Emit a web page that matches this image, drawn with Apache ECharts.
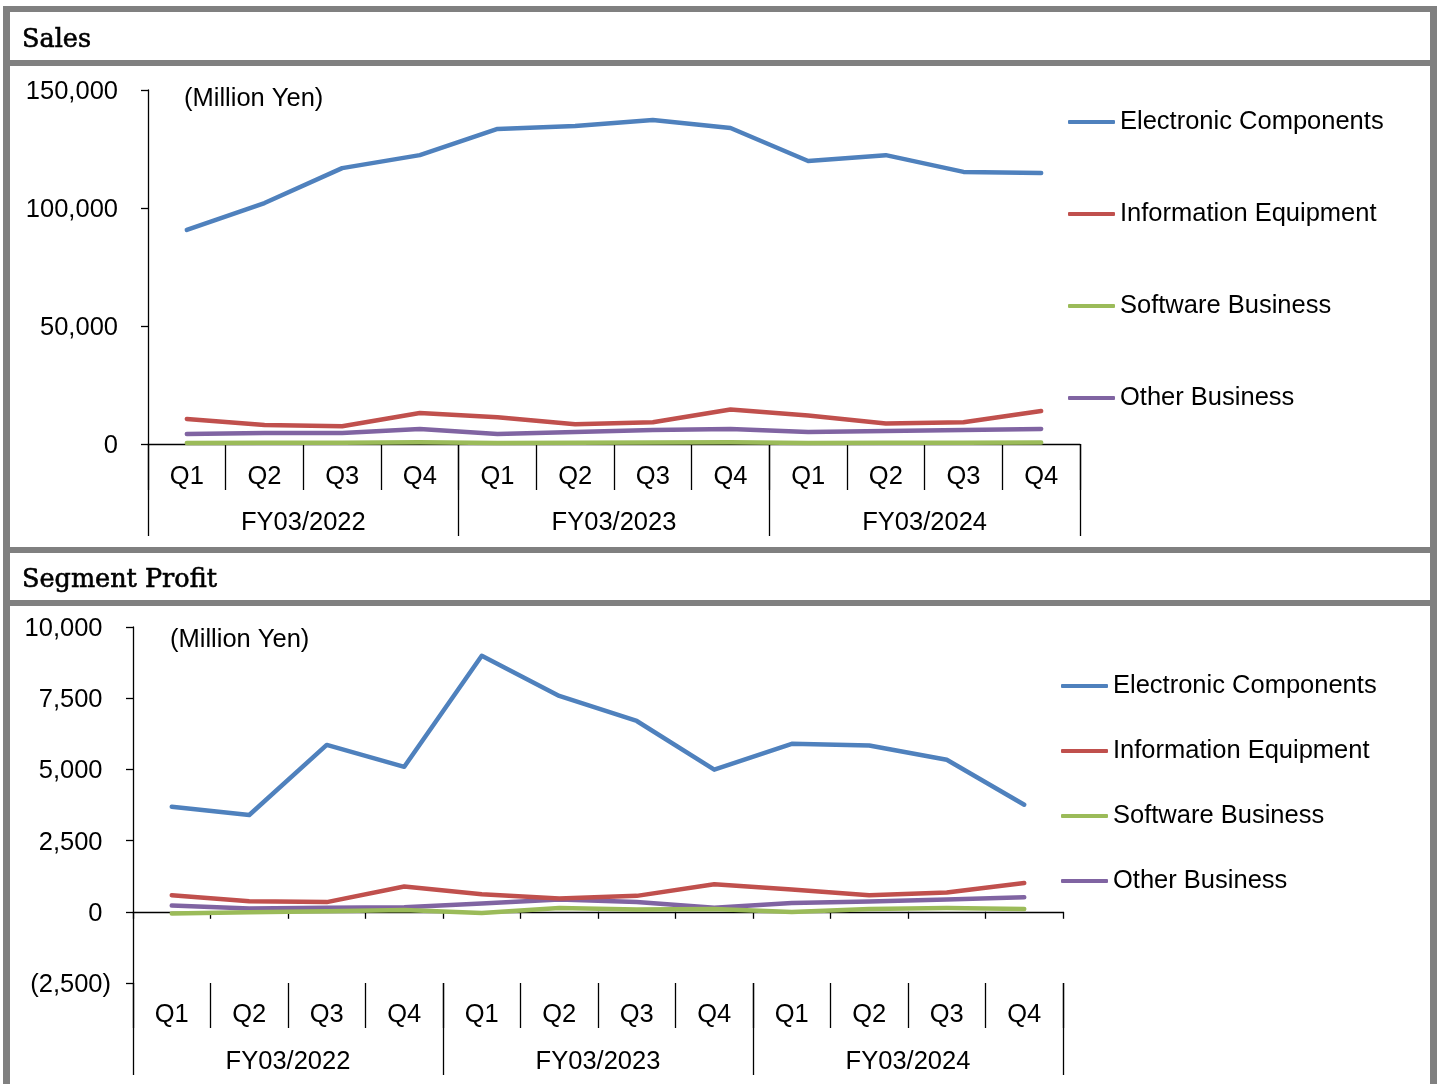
<!DOCTYPE html>
<html>
<head>
<meta charset="utf-8">
<script src="https://cdn.jsdelivr.net/npm/echarts@6.0.0/dist/echarts.min.js"></script>
<style>
  html, body { margin: 0; padding: 0; background: #fff; }
  #chart { width: 1437px; height: 1084px; }
</style>
</head>
<body>
<div id="chart"></div>
<script>
// quarters and fiscal years shared by both panels
const quarters = ['Q1', 'Q2', 'Q3', 'Q4', 'Q1', 'Q2', 'Q3', 'Q4', 'Q1', 'Q2', 'Q3', 'Q4'];
const fiscalYears = ['FY03/2022', 'FY03/2023', 'FY03/2024'];
const segmentNames = ['Electronic Components', 'Information Equipment', 'Software Business', 'Other Business'];
const segmentColors = ['#4F81BD', '#C0504D', '#9BBB59', '#8064A2'];

// Sales (million yen)
const salesElectronic = [90700, 102100, 116900, 122400, 133500, 134700, 137300, 133900, 119900, 122400, 115300, 114800];
const salesInfo = [10600, 8100, 7500, 13100, 11300, 8400, 9200, 14600, 12100, 8700, 9200, 14000];
const salesSoftware = [450, 500, 550, 750, 400, 550, 600, 700, 450, 500, 550, 650];
const salesOther = [4200, 4700, 4700, 6400, 4200, 5100, 5900, 6400, 5100, 5500, 5900, 6400];

// Segment profit (million yen)
const profitElectronic = [3690, 3400, 5860, 5090, 8990, 7580, 6700, 4990, 5900, 5840, 5340, 3760];
const profitInfo = [580, 370, 340, 890, 620, 470, 560, 970, 780, 580, 680, 1010];
const profitSoftware = [-60, -20, 20, 60, -40, 130, 80, 100, -10, 100, 130, 100];
const profitOther = [220, 120, 140, 160, 290, 430, 340, 140, 310, 360, 430, 510];

const salesTicks = { min: 0, max: 150000, interval: 50000 };
const profitTicks = { min: -2500, max: 10000, interval: 2500 };

const sansFont = '"Liberation Sans", Arial, sans-serif';
const serifFont = '"DejaVu Serif", serif';
const fs = 25.5;

const chart = echarts.init(document.getElementById('chart'));

const makeSeries = (valuesList, xIdx, yIdx) =>
  valuesList.map((values, i) => ({
    name: segmentNames[i],
    type: 'line',
    xAxisIndex: xIdx,
    yAxisIndex: yIdx,
    data: values,
    symbol: 'none',
    itemStyle: { color: segmentColors[i] },
    lineStyle: { color: segmentColors[i], width: 4.5, cap: 'round', join: 'round' },
    z: 10 - i
  }));

const makeLegend = (left, top, gap) => ({
  orient: 'vertical',
  left: left,
  top: top,
  padding: 0,
  itemGap: gap,
  icon: 'roundRect',
  itemWidth: 47,
  itemHeight: 4,
  selectedMode: false,
  data: segmentNames,
  itemStyle: { borderWidth: 0 },
  textStyle: { fontFamily: sansFont, fontSize: fs, color: '#000', lineHeight: 30 }
});

const blackLine = { show: true, lineStyle: { color: '#000', width: 1.3 } };
const labelStyle = { fontFamily: sansFont, fontSize: fs, color: '#000' };
const headStyle = { fontFamily: serifFont, fontSize: fs, fill: '#000', stroke: '#000', lineWidth: 0.6, verticalAlign: 'middle' };
const unitStyle = { fontFamily: sansFont, fontSize: fs, fill: '#000', verticalAlign: 'middle' };

// value labels in Excel accounting style: positives keep room for ")"
const valueRich = {
  n: { fontFamily: sansFont, fontSize: fs, color: '#000', padding: [4, 0, 0, 0] },
  p: { fontFamily: sansFont, fontSize: fs, color: 'rgba(0,0,0,0)', padding: [4, 0, 0, 0] }
};
const fmt = (v) => Math.abs(v).toLocaleString('en-US');

chart.setOption({
  animation: false,
  backgroundColor: '#fff',
  graphic: [
    { type: 'rect', z: -100, shape: { x: 3, y: 6, width: 1434, height: 1078 }, style: { fill: '#808080' } },
    { type: 'rect', z: -99, shape: { x: 10, y: 12, width: 1420, height: 48 }, style: { fill: '#fff' } },
    { type: 'rect', z: -99, shape: { x: 10, y: 66, width: 1420, height: 481 }, style: { fill: '#fff' } },
    { type: 'rect', z: -99, shape: { x: 10, y: 553, width: 1420, height: 47 }, style: { fill: '#fff' } },
    { type: 'rect', z: -99, shape: { x: 10, y: 606, width: 1420, height: 478 }, style: { fill: '#fff' } },
    { type: 'text', z: 100, x: 22, y: 40, style: Object.assign({ text: 'Sales' }, headStyle) },
    { type: 'text', z: 100, x: 22, y: 580, style: Object.assign({ text: 'Segment Profit' }, headStyle) },
    { type: 'text', z: 100, x: 184, y: 99, style: Object.assign({ text: '(Million Yen)' }, unitStyle) },
    { type: 'text', z: 100, x: 170, y: 640, style: Object.assign({ text: '(Million Yen)' }, unitStyle) }
  ],
  legend: [makeLegend(1068, 107, 62), makeLegend(1061, 671, 35)],
  grid: [
    { left: 148, top: 90, width: 932, height: 354, outerBoundsMode: 'none' },
    { left: 133, top: 627, width: 930, height: 356, outerBoundsMode: 'none' }
  ],
  xAxis: [
    {
      gridIndex: 0, type: 'category', data: quarters, position: 'bottom',
      axisLine: blackLine,
      axisTick: { show: true, length: 46, lineStyle: { color: '#000', width: 1.3 } },
      axisLabel: Object.assign({ interval: 0, margin: 20 }, labelStyle)
    },
    {
      gridIndex: 0, type: 'category', data: fiscalYears, position: 'bottom',
      axisLine: { show: false, onZero: false },
      axisTick: { show: true, length: 92, lineStyle: { color: '#000', width: 1.3 } },
      axisLabel: Object.assign({ interval: 0, margin: 66 }, labelStyle)
    },
    {
      gridIndex: 1, type: 'category', data: quarters, position: 'bottom',
      axisLine: { show: true, onZero: true, lineStyle: { color: '#000', width: 1.3 } },
      axisTick: { show: true, length: 7, lineStyle: { color: '#000', width: 1.3 } },
      axisLabel: { show: false }
    },
    {
      gridIndex: 1, type: 'category', data: quarters, position: 'bottom',
      axisLine: { show: false, onZero: false },
      axisTick: { show: true, length: 45, lineStyle: { color: '#000', width: 1.3 } },
      axisLabel: Object.assign({ interval: 0, margin: 19 }, labelStyle)
    },
    {
      gridIndex: 1, type: 'category', data: fiscalYears, position: 'bottom',
      axisLine: { show: false, onZero: false },
      axisTick: { show: true, length: 92, lineStyle: { color: '#000', width: 1.3 } },
      axisLabel: Object.assign({ interval: 0, margin: 66 }, labelStyle)
    }
  ],
  yAxis: [
    {
      gridIndex: 0, type: 'value', min: salesTicks.min, max: salesTicks.max, interval: salesTicks.interval,
      axisLine: blackLine,
      axisTick: { show: true, length: 7, lineStyle: { color: '#000', width: 1.3 } },
      splitLine: { show: false },
      axisLabel: Object.assign({
        margin: 30,
        formatter: (v) => '{n|' + fmt(v) + '}',
        rich: valueRich
      }, labelStyle)
    },
    {
      gridIndex: 1, type: 'value', min: profitTicks.min, max: profitTicks.max, interval: profitTicks.interval,
      axisLine: blackLine,
      axisTick: { show: true, length: 7, lineStyle: { color: '#000', width: 1.3 } },
      splitLine: { show: false },
      axisLabel: Object.assign({
        margin: 22,
        formatter: (v) => v < 0 ? '{n|(' + fmt(v) + ')}' : '{n|' + fmt(v) + '}{p|)}',
        rich: valueRich
      }, labelStyle)
    }
  ],
  series: [
    ...makeSeries([salesElectronic, salesInfo, salesSoftware, salesOther], 0, 0),
    ...makeSeries([profitElectronic, profitInfo, profitSoftware, profitOther], 2, 1)
  ]
});
</script>
</body>
</html>
